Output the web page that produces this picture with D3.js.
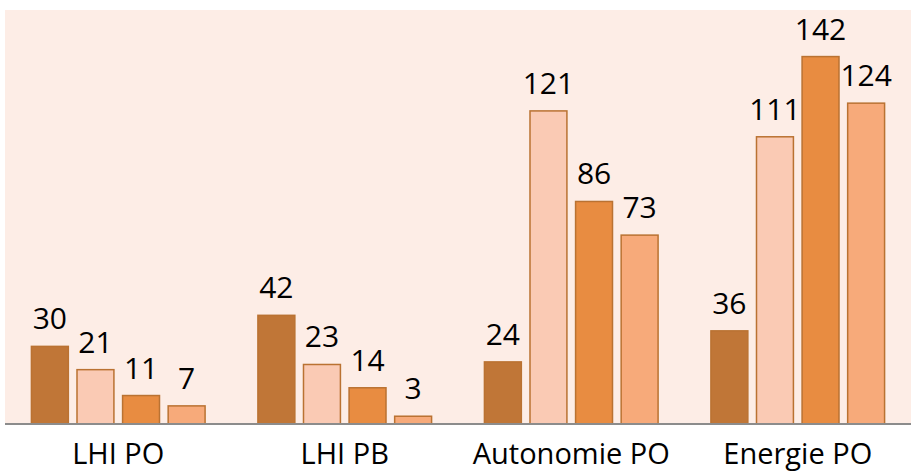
<!DOCTYPE html>
<html>
<head>
<meta charset="utf-8">
<script src="https://cdn.jsdelivr.net/npm/d3@7"></script>
<style>
html,body{margin:0;padding:0;background:#fff;}
svg{display:block;}
text{font-family:"Open Sans",sans-serif;fill:#000;}
</style>
</head>
<body>
<svg id="chart" width="911" height="472"></svg>
<script>
const categories = ["LHI PO", "LHI PB", "Autonomie PO", "Energie PO"];
const seriesNames = ["S1", "S2", "S3", "S4"];
const series1 = [30, 42, 24, 36];
const series2 = [21, 23, 121, 111];
const series3 = [11, 14, 86, 142];
const series4 = [7, 3, 73, 124];
const colors = ["#C07637", "#FACAB4", "#E88C41", "#F7AA7A"];

const allSeries = [series1, series2, series3, series4];
const plot = {left: 5, right: 911, top: 10, bottom: 424};

const svg = d3.select("#chart");

svg.append("rect")
  .attr("x", plot.left).attr("y", plot.top)
  .attr("width", plot.right - plot.left)
  .attr("height", plot.bottom - plot.top)
  .attr("fill", "#FDEDE6");

const x0 = d3.scaleBand().domain(categories).range([plot.left, plot.right]).paddingInner(0.195).paddingOuter(0.0975);
const x1 = d3.scaleBand().domain(seriesNames).range([0, x0.bandwidth()]).paddingInner(0.19).paddingOuter(0.095);
const y = d3.scaleLinear().domain([0, 160]).range([plot.bottom, plot.top]);

const data = [];
categories.forEach((c, i) => {
  seriesNames.forEach((s, j) => {
    data.push({cat: c, ser: s, v: allSeries[j][i], color: colors[j]});
  });
});

const bars = svg.append("g");
bars.selectAll("rect").data(data).enter().append("rect")
  .attr("x", d => x0(d.cat) + x1(d.ser))
  .attr("y", d => y(d.v))
  .attr("width", x1.bandwidth())
  .attr("height", d => y(0) - y(d.v))
  .attr("fill", d => d.color)
  .attr("stroke", "#BA7232")
  .attr("stroke-width", 1.5);

svg.append("g").selectAll("text").data(data).enter().append("text")
  .attr("x", d => x0(d.cat) + x1(d.ser) + x1.bandwidth() / 2)
  .attr("y", d => y(d.v) - 17)
  .attr("text-anchor", "middle")
  .attr("font-size", 30)
  .text(d => d.v);

const xAxis = d3.axisBottom(x0).tickSize(0).tickPadding(0);
const gx = svg.append("g").attr("transform", `translate(0,${plot.bottom})`).call(xAxis);
gx.select(".domain").attr("stroke", "#8C8C8C").attr("stroke-width", 2)
  .attr("d", `M${plot.left},0H${plot.right}`);
gx.selectAll(".tick text")
  .attr("font-size", 29)
  .attr("font-family", "'Open Sans', sans-serif")
  .attr("fill", "#000")
  .attr("dy", null)
  .attr("y", 40);
</script>
</body>
</html>
